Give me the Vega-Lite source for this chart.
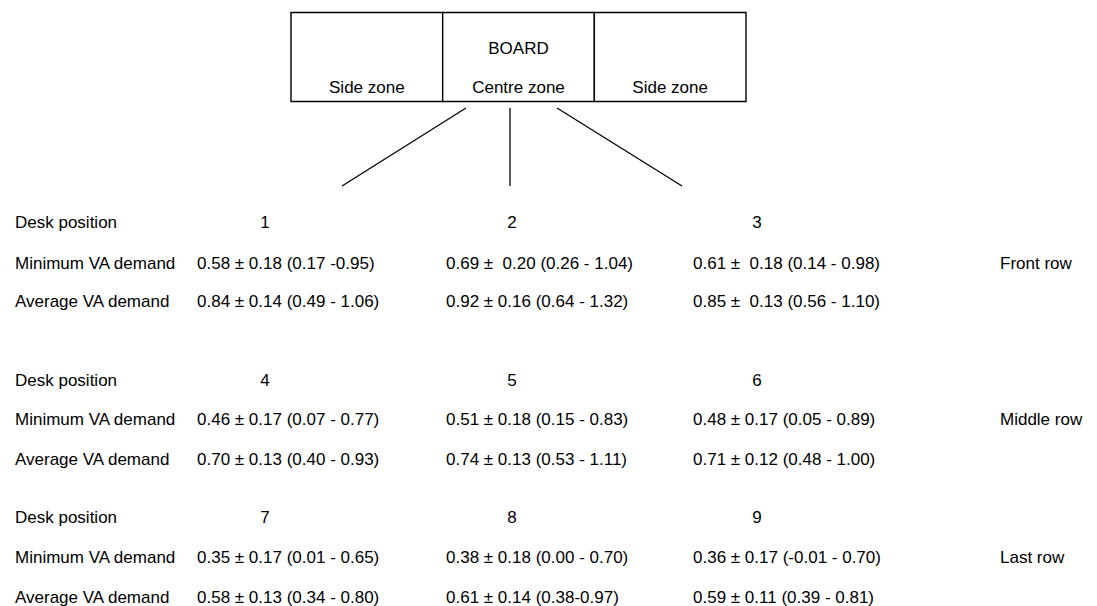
{
  "$schema": "https://vega.github.io/schema/vega-lite/v6.json",
  "width": 1097,
  "height": 606,
  "autosize": {"type": "none"},
  "padding": 0,
  "background": "white",
  "config": {"view": {"stroke": null}},
  "datasets": {
    "zones": [
      {"zone": "left", "name": "Side zone", "surface": "BOARD"},
      {"zone": "centre", "name": "Centre zone", "surface": "BOARD"},
      {"zone": "right", "name": "Side zone", "surface": "BOARD"}
    ],
    "links": [
      {"desk": 1, "atBoard": 1, "atDesk": 0},
      {"desk": 2, "atBoard": 2, "atDesk": 2},
      {"desk": 3, "atBoard": 3, "atDesk": 4}
    ],
    "cells": [
      {"line": 1, "col": 0, "text": "Desk position"},
      {"line": 2, "col": 0, "text": "Minimum VA demand"},
      {"line": 3, "col": 0, "text": "Average VA demand"},
      {"line": 4, "col": 0, "text": "Desk position"},
      {"line": 5, "col": 0, "text": "Minimum VA demand"},
      {"line": 6, "col": 0, "text": "Average VA demand"},
      {"line": 7, "col": 0, "text": "Desk position"},
      {"line": 8, "col": 0, "text": "Minimum VA demand"},
      {"line": 9, "col": 0, "text": "Average VA demand"},
      {"line": 2, "col": 1, "text": "0.58 ± 0.18 (0.17 -0.95)"},
      {"line": 2, "col": 2, "text": "0.69 ±\u00a0 0.20 (0.26 - 1.04)"},
      {"line": 2, "col": 3, "text": "0.61 ±\u00a0 0.18 (0.14 - 0.98)"},
      {"line": 3, "col": 1, "text": "0.84 ± 0.14 (0.49 - 1.06)"},
      {"line": 3, "col": 2, "text": "0.92 ± 0.16 (0.64 - 1.32)"},
      {"line": 3, "col": 3, "text": "0.85 ±\u00a0 0.13 (0.56 - 1.10)"},
      {"line": 5, "col": 1, "text": "0.46 ± 0.17 (0.07 - 0.77)"},
      {"line": 5, "col": 2, "text": "0.51 ± 0.18 (0.15 - 0.83)"},
      {"line": 5, "col": 3, "text": "0.48 ± 0.17 (0.05 - 0.89)"},
      {"line": 6, "col": 1, "text": "0.70 ± 0.13 (0.40 - 0.93)"},
      {"line": 6, "col": 2, "text": "0.74 ± 0.13 (0.53 - 1.11)"},
      {"line": 6, "col": 3, "text": "0.71 ± 0.12 (0.48 - 1.00)"},
      {"line": 8, "col": 1, "text": "0.35 ± 0.17 (0.01 - 0.65)"},
      {"line": 8, "col": 2, "text": "0.38 ± 0.18 (0.00 - 0.70)"},
      {"line": 8, "col": 3, "text": "0.36 ± 0.17 (-0.01 - 0.70)"},
      {"line": 9, "col": 1, "text": "0.58 ± 0.13 (0.34 - 0.80)"},
      {"line": 9, "col": 2, "text": "0.61 ± 0.14 (0.38-0.97)"},
      {"line": 9, "col": 3, "text": "0.59 ± 0.11 (0.39 - 0.81)"},
      {"line": 2, "col": 4, "text": "Front row"},
      {"line": 5, "col": 4, "text": "Middle row"},
      {"line": 8, "col": 4, "text": "Last row"}
    ],
    "desks": [
      {"line": 1, "column": 1, "desk": "1"},
      {"line": 1, "column": 2, "desk": "2"},
      {"line": 1, "column": 3, "desk": "3"},
      {"line": 4, "column": 1, "desk": "4"},
      {"line": 4, "column": 2, "desk": "5"},
      {"line": 4, "column": 3, "desk": "6"},
      {"line": 7, "column": 1, "desk": "7"},
      {"line": 7, "column": 2, "desk": "8"},
      {"line": 7, "column": 3, "desk": "9"}
    ]
  },
  "resolve": {"scale": {"x": "independent", "y": "independent"}},
  "layer": [
    {
      "data": {"name": "zones"},
      "encoding": {
        "x": {"field": "zone", "type": "nominal", "axis": null,
              "scale": {"type": "band", "domain": ["left", "centre", "right"], "range": [291, 746], "paddingInner": 0, "paddingOuter": 0}}
      },
      "layer": [
        {
          "mark": {"type": "rect", "fill": "white", "stroke": "black", "strokeWidth": 1.4},
          "encoding": {
            "y": {"field": "surface", "type": "nominal", "axis": null,
                  "scale": {"type": "band", "domain": ["BOARD"], "range": [12.5, 101.5], "paddingInner": 0, "paddingOuter": 0}}
          }
        },
        {
          "mark": {"type": "text", "font": "Liberation Sans", "fontSize": 17, "fill": "black", "align": "center", "baseline": "middle"},
          "encoding": {
            "y": {"field": "surface", "type": "nominal", "axis": null, "bandPosition": 0.85},
            "text": {"field": "name"}
          }
        },
        {
          "transform": [{"filter": "datum.zone === 'centre'"}],
          "mark": {"type": "text", "font": "Liberation Sans", "fontSize": 17, "fill": "black", "align": "center", "baseline": "middle"},
          "encoding": {
            "y": {"field": "surface", "type": "nominal", "axis": null, "bandPosition": 0.41},
            "text": {"field": "surface"}
          }
        }
      ]
    },
    {
      "data": {"name": "links"},
      "mark": {"type": "rule", "stroke": "black", "strokeWidth": 1.3},
      "encoding": {
        "x": {"field": "atBoard", "type": "quantitative", "axis": null,
              "scale": {"domain": [0, 1, 2, 3, 4], "range": [342, 466, 510, 557, 682], "nice": false, "zero": false}},
        "x2": {"field": "atDesk"},
        "y": {"datum": 0, "type": "quantitative", "axis": null,
              "scale": {"domain": [0, 1], "range": [108, 186], "nice": false, "zero": false}},
        "y2": {"datum": 1}
      }
    },
    {
      "data": {"name": "cells"},
      "mark": {"type": "text", "font": "Liberation Sans", "fontSize": 17, "fill": "black", "align": "left", "baseline": "middle"},
      "encoding": {
        "x": {"field": "col", "type": "quantitative", "axis": null,
              "scale": {"domain": [0, 1, 2, 3, 4], "range": [15, 197, 446, 693, 1000], "nice": false, "zero": false}},
        "y": {"field": "line", "type": "quantitative", "axis": null,
              "scale": {"domain": [1, 2, 3, 4, 5, 6, 7, 8, 9], "range": [223, 264, 302, 381, 420, 460, 518, 558, 598], "nice": false, "zero": false}},
        "text": {"field": "text"}
      }
    },
    {
      "data": {"name": "desks"},
      "mark": {"type": "text", "font": "Liberation Sans", "fontSize": 17, "fill": "black", "align": "center", "baseline": "middle"},
      "encoding": {
        "x": {"field": "column", "type": "quantitative", "axis": null,
              "scale": {"domain": [1, 2, 3], "range": [265, 512, 757], "nice": false, "zero": false}},
        "y": {"field": "line", "type": "quantitative", "axis": null,
              "scale": {"domain": [1, 2, 3, 4, 5, 6, 7, 8, 9], "range": [223, 264, 302, 381, 420, 460, 518, 558, 598], "nice": false, "zero": false}},
        "text": {"field": "desk"}
      }
    }
  ]
}
